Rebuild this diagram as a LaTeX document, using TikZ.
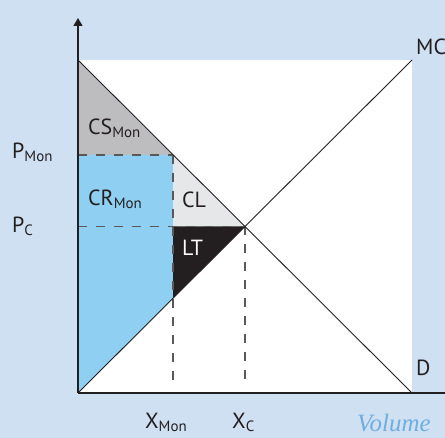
\documentclass[tikz,border=0pt]{standalone}
\usepackage{fontspec}
\setmainfont{PT Sans}
\newfontfamily\volfont{Liberation Serif}
\usetikzlibrary{arrows.meta}
\definecolor{bgblue}{HTML}{CFE0F2}
\definecolor{crblue}{HTML}{8FD0F2}
\definecolor{csgray}{HTML}{BDBDC0}
\definecolor{clgray}{HTML}{E6E7E9}
\definecolor{inkdark}{HTML}{231F20}
\definecolor{volblue}{HTML}{6FAEE0}
\newcommand{\lowidx}[1]{\raisebox{-3bp}{\fontsize{15}{15}\selectfont #1}}
\tikzset{
  axis line/.style={line width=1.3bp, draw=inkdark},
  curve line/.style={line width=0.9bp, draw=inkdark},
  guide line/.style={line width=1.4bp, draw=black!65, dash pattern=on 9bp off 9bp},
  lbl/.style={font=\fontsize{22}{25}\selectfont, text=inkdark, inner sep=0pt, anchor=base west}
}

\begin{document}
\begin{tikzpicture}[x=1bp, y=1bp]
  \useasboundingbox (0,0) rectangle (445,438);
  \fill[bgblue] (0,0) rectangle (445,438);

  % key points
  \coordinate (O) at (78,45);
  \coordinate (DTop) at (78,378);
  \coordinate (MCTop) at (412,378);
  \coordinate (DEnd) at (412,45);
  \coordinate (E) at (245,211.5);
  \coordinate (PMon) at (78,283);
  \coordinate (PC) at (78,211.5);
  \coordinate (M) at (173,283);
  \coordinate (MP) at (173,211.5);
  \coordinate (MC) at (173,140);
  \coordinate (XMonEnd) at (173,51);
  \coordinate (XCEnd) at (245,51);

  \fill[white] (O) rectangle (MCTop);

  % surplus areas
  \fill[csgray] (DTop) -- (PMon) -- (M) -- cycle;
  \fill[crblue] (PMon) -- (M) -- (MC) -- (O) -- cycle;
  \fill[clgray] (M) -- (MP) -- (E) -- cycle;
  \fill[inkdark] (MP) -- (E) -- (MC) -- cycle;

  % guides
  \draw[guide line] (PMon) -- (M);
  \draw[guide line] (PC) -- (E);
  \draw[guide line] (M) -- (XMonEnd);
  \draw[guide line] (E) -- (XCEnd);

  % demand and marginal cost
  \draw[curve line] (DTop) -- (DEnd);
  \draw[curve line] (O) -- (MCTop);

  % axes
  \draw[axis line, -{Triangle[length=8bp, width=9bp]}] (O) -- (78,420);
  \draw[axis line] (O) -- (445,45);

  % labels
  \node[lbl] (pmon) at (12,279) {P\lowidx{Mon}};
  \node[lbl] (pc) at (12,205) {P\lowidx{C}};
  \node[lbl] (mc) at (416,383) {MC};
  \node[lbl] (d) at (416,62) {D};
  \node[lbl] (xmon) at (145,9) {X\lowidx{Mon}};
  \node[lbl] (xc) at (232,9) {X\lowidx{C}};
  \node[lbl, font=\volfont\itshape\fontsize{25}{27}\selectfont, text=volblue] (vol) at (357,6) {Volume};
  \node[lbl] (cs) at (88,303) {CS\lowidx{Mon}};
  \node[lbl] (cr) at (88,232) {CR\lowidx{Mon}};
  \node[lbl] (cl) at (182,230) {CL};
  \node[lbl, text=white] (lt) at (182,182) {LT};
\end{tikzpicture}
\end{document}
